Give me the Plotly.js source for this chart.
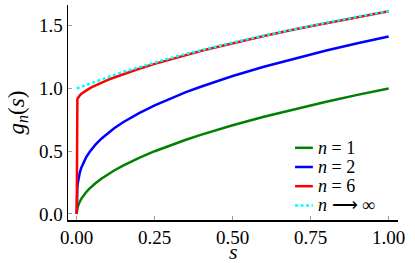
<!DOCTYPE html>
<html>
<head>
<meta charset="utf-8">
<script src="https://cdn.plot.ly/plotly-3.0.1.min.js"></script>
<style>
html,body{margin:0;padding:0;background:#fff;}
#chart{width:415px;height:263px;}
</style>
</head>
<body>
<div id="chart"></div>
<script>
// s values read along the horizontal axis
var s = [0, 0.000001, 0.00001, 0.0001, 0.0003, 0.001, 0.002, 0.003, 0.005, 0.0075, 0.01, 0.015, 0.02, 0.03, 0.04, 0.05, 0.06, 0.08, 0.1, 0.12, 0.15, 0.175, 0.2, 0.25, 0.3, 0.35, 0.4, 0.45, 0.5, 0.6, 0.7, 0.8, 0.9, 1.0];
// g_n(s) values
var g1 = [0, 0.001, 0.0032, 0.01, 0.0173, 0.0316, 0.0447, 0.0548, 0.0707, 0.0866, 0.100, 0.1225, 0.141, 0.1732, 0.200, 0.2236, 0.245, 0.283, 0.316, 0.3464, 0.387, 0.4183, 0.447, 0.500, 0.548, 0.5916, 0.632, 0.6708, 0.707, 0.775, 0.837, 0.894, 0.949, 1.000];
var g2 = [0, 0.0316, 0.0563, 0.1005, 0.1327, 0.181, 0.2162, 0.2404, 0.275, 0.3068, 0.332, 0.3708, 0.402, 0.4508, 0.490, 0.5231, 0.552, 0.602, 0.645, 0.6829, 0.733, 0.7703, 0.804, 0.866, 0.921, 0.9704, 1.016, 1.0587, 1.099, 1.173, 1.240, 1.302, 1.360, 1.414];
var g6 = [0, 0.806, 0.8355, 0.866, 0.8819, 0.900, 0.9115, 0.9188, 0.929, 0.9381, 0.945, 0.9573, 0.967, 0.9841, 0.999, 1.0118, 1.024, 1.047, 1.068, 1.0872, 1.115, 1.1364, 1.157, 1.196, 1.232, 1.2668, 1.300, 1.3309, 1.361, 1.418, 1.472, 1.522, 1.570, 1.616];
var gInf = [1.000, 1.000, 1.000, 1.0001, 1.0003, 1.001, 1.002, 1.003, 1.005, 1.0074, 1.010, 1.0148, 1.020, 1.0292, 1.039, 1.0477, 1.057, 1.075, 1.092, 1.1083, 1.133, 1.1519, 1.171, 1.207, 1.242, 1.2746, 1.306, 1.3367, 1.366, 1.422, 1.475, 1.525, 1.572, 1.618];

var xTicks = [0, 0.25, 0.5, 0.75, 1.0];
var xTickText = ["0.00", "0.25", "0.50", "0.75", "1.00"];
var yTicks = [0, 0.5, 1.0, 1.5];
var yTickText = ["0.0", "0.5", "1.0", "1.5"];

var names = ["<i>n</i> = 1", "<i>n</i> = 2", "<i>n</i> = 6", "<i>n</i> ⟶ ∞"];
var colors = ["#008000", "#0000ff", "#ff0000", "#00ffff"];
var dashes = ["solid", "solid", "solid", "3px,2.5px"];
var series = [g1, g2, g6, gInf];
var xTitle = "<i>s</i>";
var yTitle = "<i>g<sub>n</sub></i>(<i>s</i>)";

var font = "Liberation Serif";

var traces = series.map(function (g, i) {
  return {x: s, y: g, mode: "lines", name: names[i], showlegend: false,
          line: {color: colors[i], width: 2.5, dash: dashes[i]}};
});

// hand-placed legend (paper coordinates)
var legY = [0.3358, 0.2465, 0.1572, 0.0679];
var shapes = [], annotations = [];
names.forEach(function (nm, i) {
  shapes.push({type: "line", xref: "paper", yref: "paper", x0: 0.688, x1: 0.742, y0: legY[i], y1: legY[i],
               line: {color: colors[i], width: 2.5, dash: dashes[i]}});
  annotations.push({xref: "paper", yref: "paper", x: 0.752, y: legY[i], xanchor: "left", yanchor: "middle",
                    text: nm, showarrow: false, font: {family: font, size: 18, color: "#000"}});
});
// x-axis title placed below the tick labels
annotations.push({xref: "paper", yref: "paper", x: 0.5, y: -0.148, xanchor: "center", yanchor: "middle",
                  text: xTitle, showarrow: false, font: {family: font, size: 22, color: "#000"}});

var axisCommon = {
  showgrid: false, zeroline: false, showline: true, linecolor: "#000", linewidth: 1.5,
  ticks: "inside", ticklen: 4, tickwidth: 1, tickcolor: "#999",
  tickfont: {family: font, size: 19, color: "#000"}
};

var layout = {
  width: 415, height: 263,
  margin: {l: 68, r: 17, t: 5, b: 43},
  paper_bgcolor: "#fff", plot_bgcolor: "#fff",
  font: {family: font, color: "#000"},
  showlegend: false,
  shapes: shapes,
  annotations: annotations,
  xaxis: Object.assign({}, axisCommon, {
    range: [-0.028, 1.03], tickvals: xTicks, ticktext: xTickText
  }),
  yaxis: Object.assign({}, axisCommon, {
    range: [-0.048, 1.665], tickvals: yTicks, ticktext: yTickText,
    title: {text: yTitle, font: {family: font, size: 23, color: "#000"}, standoff: 8}
  })
};

Plotly.newPlot("chart", traces, layout, {displayModeBar: false, staticPlot: true});
</script>
</body>
</html>
